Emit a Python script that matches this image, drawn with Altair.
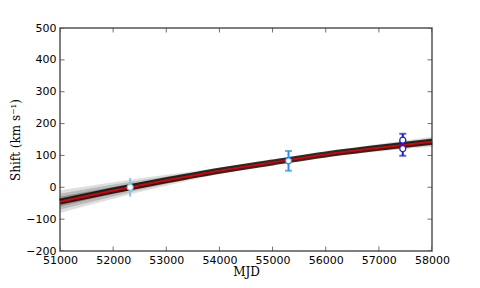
import altair as alt
import pandas as pd

# --- data ---
mjd_grid = [51000, 52000, 53000, 54000, 55000, 56000, 57000, 58000]
fit_center = [-45, -10, 22, 52, 78, 103, 124, 143]
outer_lo = [-81, -36, 5, 42, 71, 95, 112, 127]
outer_hi = [-9, 16, 39, 62, 85, 111, 136, 159]
mid_lo = [-70, -29, 10, 45, 73, 97, 116, 131]
mid_hi = [-20, 9, 34, 59, 83, 109, 132, 155]
inner_lo = [-60, -21, 15, 48, 75, 100, 119, 136]
inner_hi = [-30, 1, 29, 56, 81, 106, 129, 150]

obs_mjd = [52320, 55300, 57450, 57450]
obs_shift = [0, 83, 148, 121]
obs_err = [29, 31, 20, 22]
obs_group = ["a", "b", "c", "d"]
obs_colors = ["#8cc4da", "#2a8cf0", "#1c1cc8", "#1c1cc8"]
obs_caps = [False, True, True, True]

x_ticks = [51000, 52000, 53000, 54000, 55000, 56000, 57000, 58000]
y_ticks = [-200, -100, 0, 100, 200, 300, 400, 500]
x_range = [51000, 58000]
y_range = [-200, 500]

fit = pd.DataFrame({
    "mjd": mjd_grid, "c": fit_center,
    "olo": outer_lo, "ohi": outer_hi,
    "mlo": mid_lo, "mhi": mid_hi,
    "ilo": inner_lo, "ihi": inner_hi,
})
obs = pd.DataFrame({
    "mjd": obs_mjd, "s": obs_shift,
    "lo": [v - e for v, e in zip(obs_shift, obs_err)],
    "hi": [v + e for v, e in zip(obs_shift, obs_err)],
    "g": obs_group, "cap": obs_caps,
})
xt = pd.DataFrame({"t": x_ticks})
yt = pd.DataFrame({"t": y_ticks})

W, H = 372, 223
xs = alt.Scale(domain=x_range, nice=False, zero=False)
ys = alt.Scale(domain=y_range, nice=False, zero=False)
col = alt.Color("g:N", scale=alt.Scale(domain=obs_group, range=obs_colors), legend=None)

xax = alt.Axis(title="MJD", values=x_ticks, format="d", grid=False, tickSize=0,
               labelPadding=3, domain=False, titleFont="DejaVu Serif",
               titleFontWeight="normal", titleFontSize=12, titlePadding=1,
               labelOverlap=False, labelFlush=False)
yax = alt.Axis(title="Shift (km s⁻¹)", values=y_ticks, format="d", grid=False,
               tickSize=0, labelPadding=4, domain=False, titleFont="DejaVu Serif",
               titleFontWeight="normal", titleFontSize=12, titlePadding=3,
               labelOverlap=False, labelFlush=False)

base = alt.Chart(fit)

def band(lo, hi, op):
    return base.mark_area(color="#505050", opacity=op, interpolate="monotone").encode(
        x=alt.X("mjd:Q", scale=xs, axis=xax),
        y=alt.Y(f"{lo}:Q", scale=ys, axis=yax),
        y2=f"{hi}:Q",
    )

b1 = band("olo", "ohi", 0.18)
b2 = band("mlo", "mhi", 0.25)
b3 = band("ilo", "ihi", 0.4)

core = base.mark_line(color="#000000", strokeWidth=6, opacity=0.8, interpolate="monotone").encode(
    x=alt.X("mjd:Q", scale=xs, axis=xax), y=alt.Y("c:Q", scale=ys, axis=yax))
red = base.mark_line(color="#dd0000", strokeWidth=2, interpolate="monotone").encode(
    x=alt.X("mjd:Q", scale=xs, axis=xax), y=alt.Y("c:Q", scale=ys, axis=yax))

ob = alt.Chart(obs)
bars = ob.mark_rule(strokeWidth=2).encode(
    x=alt.X("mjd:Q", scale=xs, axis=xax), y=alt.Y("lo:Q", scale=ys, axis=yax), y2="hi:Q", color=col)
caps_lo = ob.transform_filter("datum.cap").mark_tick(thickness=2, size=7, orient="horizontal").encode(
    x=alt.X("mjd:Q", scale=xs, axis=xax), y=alt.Y("lo:Q", scale=ys, axis=yax), color=col)
caps_hi = ob.transform_filter("datum.cap").mark_tick(thickness=2, size=7, orient="horizontal").encode(
    x=alt.X("mjd:Q", scale=xs, axis=xax), y=alt.Y("hi:Q", scale=ys, axis=yax), color=col)
pts = ob.mark_point(filled=True, fill="white", strokeWidth=1.2, size=36, opacity=1).encode(
    x=alt.X("mjd:Q", scale=xs, axis=xax), y=alt.Y("s:Q", scale=ys, axis=yax),
    stroke=alt.Stroke("g:N", scale=alt.Scale(domain=obs_group, range=obs_colors), legend=None))

# inward ticks on all four sides (clipped to plot area)
tick_layers = []
for edge in y_range:
    tick_layers.append(alt.Chart(xt).mark_tick(orient="vertical", size=9, thickness=1,
                                               color="#333333", clip=True).encode(
        x=alt.X("t:Q", scale=xs, axis=xax), y=alt.Y(datum=edge, scale=ys, axis=yax)))
for edge in x_range:
    tick_layers.append(alt.Chart(yt).mark_tick(orient="horizontal", size=9, thickness=1,
                                               color="#333333", clip=True).encode(
        y=alt.Y("t:Q", scale=ys, axis=yax), x=alt.X(datum=edge, scale=xs, axis=xax)))

chart = alt.layer(b1, b2, b3, core, red, bars, caps_lo, caps_hi, pts, *tick_layers).properties(
    width=W, height=H,
    autosize=alt.AutoSizeParams(type="none"),
    padding={"left": 52, "top": 20, "right": 40, "bottom": 30},
).configure_view(
    stroke="#555555", strokeWidth=1.5
).configure_axis(
    labelFont="DejaVu Sans", labelFontSize=11, labelColor="#000000",
    titleColor="#000000", labelOverlap=False, labelFlush=False,
)

chart.save("out.html", embed_options={"renderer": "svg", "actions": False})
